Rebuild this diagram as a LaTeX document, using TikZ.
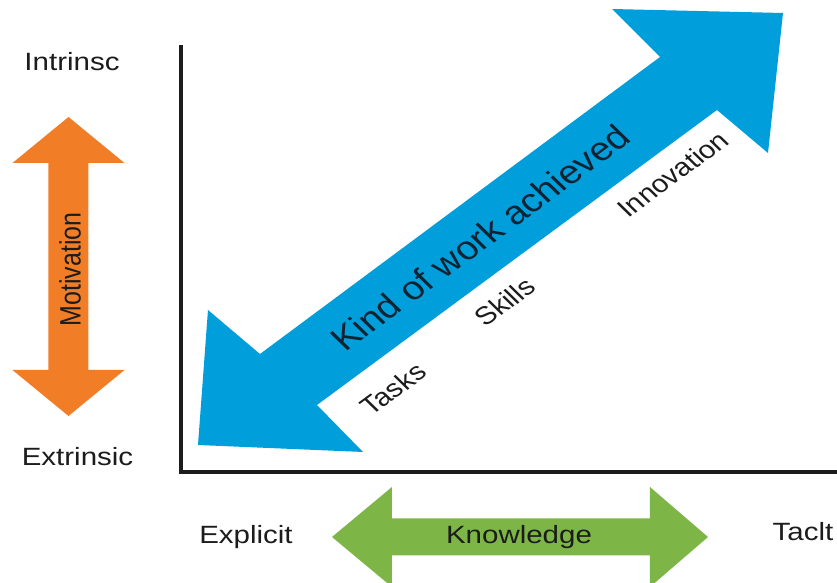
\documentclass[tikz,border=0pt]{standalone}
\usepackage{fontspec}
\setmainfont{Liberation Sans}
\definecolor{motivorange}{RGB}{241, 126, 38}
\definecolor{knowgreen}{RGB}{125, 182, 70}
\definecolor{workblue}{RGB}{0, 158, 219}
\definecolor{inkgray}{RGB}{28, 28, 28}
\definecolor{inknavy}{RGB}{15, 35, 50}
\newcommand{\lblsize}{\fontsize{23.7}{28}\selectfont}
\newcommand{\kindsize}{\fontsize{31.3}{36}\selectfont}

\begin{document}
\begin{tikzpicture}[
  axisline/.style={line width=4.5pt, draw=inkgray},
  lbl/.style={font=\lblsize, text=inkgray, inner sep=0pt, xscale=1.18},
  difflbl/.style={lbl, rotate=41}
]
  \useasboundingbox (-6.033, -3.7) rectangle (21.867, 15.733);
  \fill[white] (-6.033, -3.7) rectangle (21.867, 15.733);

  % Motivation arrow
  \fill[motivorange] (-3.75, 11.833) -- (-1.883, 10.3) -- (-3.083, 10.3) -- (-3.083, 3.4) -- (-1.883, 3.4)
    -- (-3.75, 1.867) -- (-5.617, 3.4) -- (-4.417, 3.4) -- (-4.417, 10.3) -- (-5.617, 10.3) -- cycle;
  \node[lbl, rotate=90] (motiv) at (-3.7, 6.75) {Motivation};

  % Knowledge arrow
  \fill[knowgreen] (5.033, -2.167) -- (7.033, -0.5) -- (7.033, -1.55) -- (15.633, -1.55) -- (15.633, -0.5)
    -- (17.567, -2.167) -- (15.633, -3.833) -- (15.633, -2.783) -- (7.033, -2.783) -- (7.033, -3.833) -- cycle;
  \node[lbl, anchor=base] (know) at (11.267, -2.367) {Knowledge};

  % Axes
  \coordinate (top) at (0, 14.233);
  \coordinate (origin) at (0, 0);
  \coordinate (right) at (21.867, 0);
  \draw[axisline] (top) -- (origin) -- (right);

  % Kind of work arrow
  \fill[workblue] (0.567, 0.9) -- (0.9, 5.4) -- (2.633, 3.933) -- (15.967, 13.833) -- (14.367, 15.433)
    -- (20.067, 15.3) -- (19.567, 10.633) -- (17.867, 12.067) -- (4.533, 2.233) -- (6.067, 0.667) -- cycle;
  \node[difflbl, font=\kindsize, text=inknavy] (kind) at (9.967, 7.81) {Kind of work achieved};
  \node[difflbl] (tasks) at (7.067, 2.767) {Tasks};
  \node[difflbl] (skills) at (10.8, 5.667) {Skills};
  \node[difflbl] (innov) at (16.4, 9.933) {Innovation};

  % Axis ends
  \node[lbl, anchor=base] (intr) at (-3.633, 13.367) {Intrinsc};
  \node[lbl, anchor=base] (extr) at (-3.45, 0.21) {Extrinsic};
  \node[lbl, anchor=base] (expl) at (2.167, -2.377) {Explicit};
  \node[lbl, anchor=base] (tacit) at (20.733, -2.267) {Taclt};
\end{tikzpicture}
\end{document}
